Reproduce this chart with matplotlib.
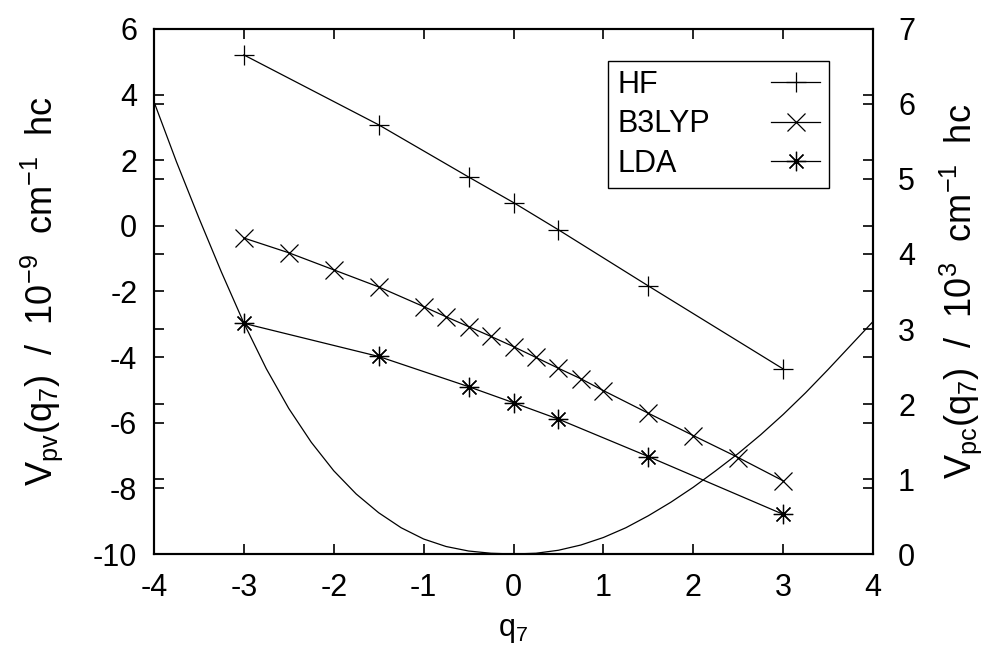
import numpy as np
import matplotlib
matplotlib.use("Agg")
import matplotlib.pyplot as plt

plt.rcParams['font.family'] = ['Liberation Sans', 'DejaVu Sans']
plt.rcParams['mathtext.fontset'] = 'custom'
plt.rcParams['mathtext.rm'] = 'Liberation Sans'
plt.rcParams['mathtext.default'] = 'rm'
plt.rcParams['axes.unicode_minus'] = False

# parity-violating energies (left axis, 1e-9 cm^-1 hc)
q_hf = [-3, -1.5, -0.5, 0, 0.5, 1.5, 3]
v_hf = [5.21, 3.08, 1.49, 0.71, -0.12, -1.83, -4.36]

q_b3 = [-3, -2.5, -2, -1.5, -1, -0.75, -0.5, -0.25, 0, 0.25, 0.5, 0.75, 1, 1.5, 2, 2.5, 3]
v_b3 = [-0.37, -0.82, -1.34, -1.86, -2.46, -2.77, -3.07, -3.37, -3.68, -4.01,
        -4.34, -4.66, -5.02, -5.71, -6.39, -7.06, -7.77]

q_lda = [-3, -1.5, -0.5, 0, 0.5, 1.5, 3]
v_lda = [-2.97, -3.98, -4.90, -5.39, -5.89, -7.03, -8.79]

# parity-conserving potential (right axis, 1e3 cm^-1 hc)
q_pc = [-4, -3.75, -3.5, -3.25, -3, -2.75, -2.5, -2.25, -2, -1.75, -1.5, -1.25, -1,
        -0.75, -0.5, -0.25, 0, 0.25, 0.5, 0.75, 1, 1.25, 1.5, 1.75, 2, 2.25, 2.5,
        2.75, 3, 3.25, 3.5, 3.75, 4]
v_pc = [6.03, 5.23, 4.48, 3.76, 3.08, 2.47, 1.94, 1.49, 1.11, 0.80, 0.55, 0.35, 0.20,
        0.10, 0.04, 0.01, 0.0, 0.01, 0.05, 0.12, 0.22, 0.35, 0.51, 0.69, 0.89, 1.11,
        1.34, 1.59, 1.86, 2.15, 2.46, 2.78, 3.10]

fs = 22
lw = 0.9
asterisk = (8, 2, 0)

fig = plt.figure(figsize=(9.94, 6.53), dpi=100)
ax = fig.add_axes([0.1549, 0.1516, 0.7234, 0.804])
ax2 = ax.twinx()

ax.plot(q_hf, v_hf, color='black', lw=lw, marker='+', ms=14, mew=lw, label='HF')
ax.plot(q_b3, v_b3, color='black', lw=lw, marker='x', ms=13, mew=lw, label='B3LYP')
ax.plot(q_lda, v_lda, color='black', lw=lw, marker=asterisk, ms=14, mew=lw, label='LDA')
ax2.plot(q_pc, v_pc, color='black', lw=lw)

ax.set_xlim(-4, 4)
ax.set_ylim(-10, 6)
ax2.set_ylim(0, 7)
ax.set_xticks(np.arange(-4, 5, 1))
ax.set_yticks(np.arange(-10, 7, 2))
ax2.set_yticks(np.arange(0, 8, 1))

for a in (ax, ax2):
    for s in a.spines.values():
        s.set_linewidth(1.5)
ax.tick_params(direction='in', length=7, width=1.2, labelsize=fs, top=True,
               left=True, right=True, labelright=False, pad=12)
ax.tick_params(axis='x', pad=14)
ax2.tick_params(direction='in', length=7, width=1.2, labelsize=fs, left=True,
                right=True, labelleft=False, labelright=True, pad=18)

ax.set_xlabel(r'q$_7$', fontsize=fs, labelpad=8)
ax.set_ylabel(r'V$_{\rm pv}$(q$_7$)  /  10$^{-9}$  cm$^{-1}$  hc', fontsize=26, labelpad=20)
ax2.set_ylabel(r'V$_{\rm pc}$(q$_7$)  /  10$^{3}$  cm$^{-1}$  hc', fontsize=26, labelpad=16)

leg = ax.legend(loc='upper right', bbox_to_anchor=(0.939, 0.939), borderaxespad=0,
                markerfirst=False, fontsize=fs, frameon=True, fancybox=False,
                edgecolor='black', framealpha=1, handlelength=1.6,
                handletextpad=2.0, labelspacing=0.3, borderpad=0.3)
leg.get_frame().set_linewidth(1.0)

# left-align legend texts, keep samples in a right-hand column
fig.canvas.draw()
r = fig.canvas.get_renderer()
widths = [t.get_window_extent(r).width for t in leg.get_texts()]
rows = leg._legend_handle_box.get_children()[0].get_children()
for row, w in zip(rows, widths):
    row.sep += (max(widths) - w) * 72 / fig.dpi

fig.savefig('out.png', dpi=100)
